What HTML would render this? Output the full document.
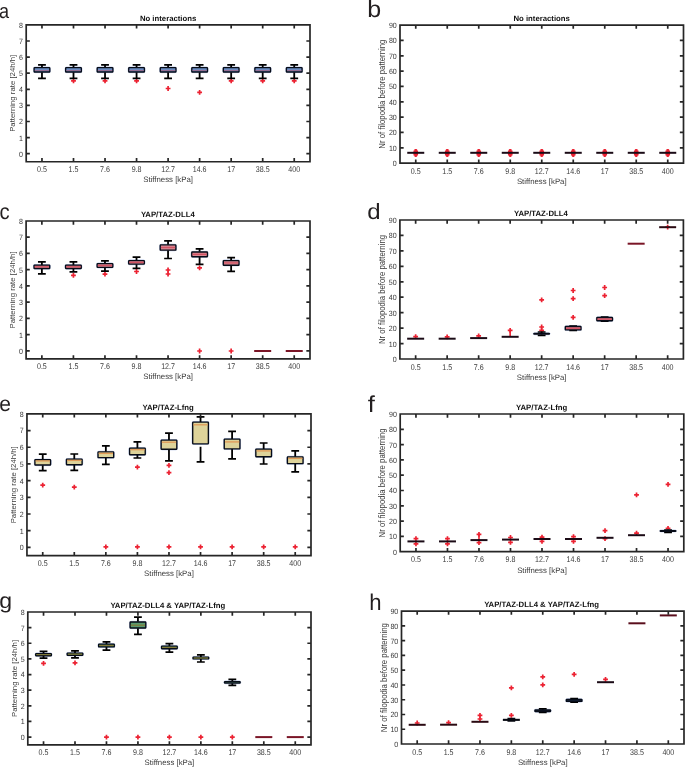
<!DOCTYPE html>
<html><head><meta charset="utf-8"><style>
html,body{margin:0;padding:0;background:#fff;}
body{width:685px;height:767px;overflow:hidden;position:relative;font-family:"Liberation Sans", sans-serif;}
svg{will-change:transform;}
svg text{font-family:"Liberation Sans", sans-serif;text-rendering:geometricPrecision;}
svg text.rot{text-rendering:auto;}
</style></head><body>
<svg width="685" height="767" viewBox="0 0 685 767" style="position:absolute;left:0;top:0"><g><text x="168.1" y="20.8" text-anchor="middle" font-weight="bold" font-size="7.75" fill="#111">No interactions</text><rect x="33.54" y="67.08" width="16.85" height="5.55" rx="1.5" fill="none" stroke="#b8c6e6" stroke-width="1"/><path d="M41.97 64.9V67.5M41.97 72.2V78.3" stroke="#000" stroke-width="1.8" fill="none"/><path d="M38.07 64.9H45.87M38.07 78.3H45.87" stroke="#000" stroke-width="1.7" fill="none"/><rect x="34.14" y="67.67" width="15.65" height="4.35" rx="0.5" fill="#6b90c6" stroke="#070c18" stroke-width="1.35"/><path d="M34.82 70.4H49.12" stroke="#9a6a8c" stroke-width="1.0"/><path d="M71.1 80.8H75.9M73.5 78.4V83.2" stroke="#ec2232" stroke-width="1.7" fill="none"/><rect x="65.08" y="67.08" width="16.85" height="5.55" rx="1.5" fill="none" stroke="#b8c6e6" stroke-width="1"/><path d="M73.5 64.9V67.5M73.5 72.2V78.3" stroke="#000" stroke-width="1.8" fill="none"/><path d="M69.6 64.9H77.4M69.6 78.3H77.4" stroke="#000" stroke-width="1.7" fill="none"/><rect x="65.67" y="67.67" width="15.65" height="4.35" rx="0.5" fill="#6b90c6" stroke="#070c18" stroke-width="1.35"/><path d="M66.35 70.4H80.65" stroke="#9a6a8c" stroke-width="1.0"/><path d="M102.63 80.8H107.43M105.03 78.4V83.2" stroke="#ec2232" stroke-width="1.7" fill="none"/><rect x="96.61" y="67.08" width="16.85" height="5.55" rx="1.5" fill="none" stroke="#b8c6e6" stroke-width="1"/><path d="M105.03 64.9V67.5M105.03 72.2V78.3" stroke="#000" stroke-width="1.8" fill="none"/><path d="M101.13 64.9H108.93M101.13 78.3H108.93" stroke="#000" stroke-width="1.7" fill="none"/><rect x="97.21" y="67.67" width="15.65" height="4.35" rx="0.5" fill="#6b90c6" stroke="#070c18" stroke-width="1.35"/><path d="M97.88 70.4H112.18" stroke="#9a6a8c" stroke-width="1.0"/><path d="M134.17 80.8H138.97M136.57 78.4V83.2" stroke="#ec2232" stroke-width="1.7" fill="none"/><rect x="128.14" y="67.08" width="16.85" height="5.55" rx="1.5" fill="none" stroke="#b8c6e6" stroke-width="1"/><path d="M136.57 64.9V67.5M136.57 72.2V78.3" stroke="#000" stroke-width="1.8" fill="none"/><path d="M132.67 64.9H140.47M132.67 78.3H140.47" stroke="#000" stroke-width="1.7" fill="none"/><rect x="128.74" y="67.67" width="15.65" height="4.35" rx="0.5" fill="#6b90c6" stroke="#070c18" stroke-width="1.35"/><path d="M129.42 70.4H143.72" stroke="#9a6a8c" stroke-width="1.0"/><path d="M165.7 88.5H170.5M168.1 86.1V90.9" stroke="#ec2232" stroke-width="1.7" fill="none"/><rect x="159.68" y="67.08" width="16.85" height="5.55" rx="1.5" fill="none" stroke="#b8c6e6" stroke-width="1"/><path d="M168.1 64.9V67.5M168.1 72.2V78.3" stroke="#000" stroke-width="1.8" fill="none"/><path d="M164.2 64.9H172M164.2 78.3H172" stroke="#000" stroke-width="1.7" fill="none"/><rect x="160.28" y="67.67" width="15.65" height="4.35" rx="0.5" fill="#6b90c6" stroke="#070c18" stroke-width="1.35"/><path d="M160.95 70.4H175.25" stroke="#9a6a8c" stroke-width="1.0"/><path d="M197.23 92.3H202.03M199.63 89.9V94.7" stroke="#ec2232" stroke-width="1.7" fill="none"/><rect x="191.21" y="67.08" width="16.85" height="5.55" rx="1.5" fill="none" stroke="#b8c6e6" stroke-width="1"/><path d="M199.63 64.9V67.5M199.63 72.2V78.3" stroke="#000" stroke-width="1.8" fill="none"/><path d="M195.73 64.9H203.53M195.73 78.3H203.53" stroke="#000" stroke-width="1.7" fill="none"/><rect x="191.81" y="67.67" width="15.65" height="4.35" rx="0.5" fill="#6b90c6" stroke="#070c18" stroke-width="1.35"/><path d="M192.48 70.4H206.78" stroke="#9a6a8c" stroke-width="1.0"/><path d="M228.77 80.9H233.57M231.17 78.5V83.3" stroke="#ec2232" stroke-width="1.7" fill="none"/><rect x="222.74" y="67.08" width="16.85" height="5.55" rx="1.5" fill="none" stroke="#b8c6e6" stroke-width="1"/><path d="M231.17 64.9V67.5M231.17 72.2V78.3" stroke="#000" stroke-width="1.8" fill="none"/><path d="M227.27 64.9H235.07M227.27 78.3H235.07" stroke="#000" stroke-width="1.7" fill="none"/><rect x="223.34" y="67.67" width="15.65" height="4.35" rx="0.5" fill="#6b90c6" stroke="#070c18" stroke-width="1.35"/><path d="M224.02 70.4H238.32" stroke="#9a6a8c" stroke-width="1.0"/><path d="M260.3 80.9H265.1M262.7 78.5V83.3" stroke="#ec2232" stroke-width="1.7" fill="none"/><rect x="254.28" y="67.08" width="16.85" height="5.55" rx="1.5" fill="none" stroke="#b8c6e6" stroke-width="1"/><path d="M262.7 64.9V67.5M262.7 72.2V78.3" stroke="#000" stroke-width="1.8" fill="none"/><path d="M258.8 64.9H266.6M258.8 78.3H266.6" stroke="#000" stroke-width="1.7" fill="none"/><rect x="254.88" y="67.67" width="15.65" height="4.35" rx="0.5" fill="#6b90c6" stroke="#070c18" stroke-width="1.35"/><path d="M255.55 70.4H269.85" stroke="#9a6a8c" stroke-width="1.0"/><path d="M291.83 80.9H296.63M294.23 78.5V83.3" stroke="#ec2232" stroke-width="1.7" fill="none"/><rect x="285.81" y="67.08" width="16.85" height="5.55" rx="1.5" fill="none" stroke="#b8c6e6" stroke-width="1"/><path d="M294.23 64.9V67.5M294.23 72.2V78.3" stroke="#000" stroke-width="1.8" fill="none"/><path d="M290.33 64.9H298.13M290.33 78.3H298.13" stroke="#000" stroke-width="1.7" fill="none"/><rect x="286.41" y="67.67" width="15.65" height="4.35" rx="0.5" fill="#6b90c6" stroke="#070c18" stroke-width="1.35"/><path d="M287.08 70.4H301.38" stroke="#9a6a8c" stroke-width="1.0"/><path d="M26.2 24.9H310V161.75H26.2ZM41.97 161.75v-2.8M41.97 24.9v2.8M73.5 161.75v-2.8M73.5 24.9v2.8M105.03 161.75v-2.8M105.03 24.9v2.8M136.57 161.75v-2.8M136.57 24.9v2.8M168.1 161.75v-2.8M168.1 24.9v2.8M199.63 161.75v-2.8M199.63 24.9v2.8M231.17 161.75v-2.8M231.17 24.9v2.8M262.7 161.75v-2.8M262.7 24.9v2.8M294.23 161.75v-2.8M294.23 24.9v2.8M26.2 153.7h2.8M310 153.7h-2.8M26.2 137.6h2.8M310 137.6h-2.8M26.2 121.5h2.8M310 121.5h-2.8M26.2 105.4h2.8M310 105.4h-2.8M26.2 89.3h2.8M310 89.3h-2.8M26.2 73.2h2.8M310 73.2h-2.8M26.2 57.1h2.8M310 57.1h-2.8M26.2 41h2.8M310 41h-2.8M26.2 24.9h2.8M310 24.9h-2.8" stroke="#262626" stroke-width="1.7" fill="none" stroke-linecap="square"/><text transform="translate(23 156.65) scale(1 1.08)" text-anchor="end" font-size="7.1" fill="#3a3a3a">0</text><text transform="translate(23 140.55) scale(1 1.08)" text-anchor="end" font-size="7.1" fill="#3a3a3a">1</text><text transform="translate(23 124.45) scale(1 1.08)" text-anchor="end" font-size="7.1" fill="#3a3a3a">2</text><text transform="translate(23 108.35) scale(1 1.08)" text-anchor="end" font-size="7.1" fill="#3a3a3a">3</text><text transform="translate(23 92.25) scale(1 1.08)" text-anchor="end" font-size="7.1" fill="#3a3a3a">4</text><text transform="translate(23 76.15) scale(1 1.08)" text-anchor="end" font-size="7.1" fill="#3a3a3a">5</text><text transform="translate(23 60.05) scale(1 1.08)" text-anchor="end" font-size="7.1" fill="#3a3a3a">6</text><text transform="translate(23 43.95) scale(1 1.08)" text-anchor="end" font-size="7.1" fill="#3a3a3a">7</text><text transform="translate(23 27.85) scale(1 1.08)" text-anchor="end" font-size="7.1" fill="#3a3a3a">8</text><text transform="translate(41.97 171.75) scale(1 1.17)" text-anchor="middle" font-size="7.1" fill="#3a3a3a">0.5</text><text transform="translate(73.5 171.75) scale(1 1.17)" text-anchor="middle" font-size="7.1" fill="#3a3a3a">1.5</text><text transform="translate(105.03 171.75) scale(1 1.17)" text-anchor="middle" font-size="7.1" fill="#3a3a3a">7.6</text><text transform="translate(136.57 171.75) scale(1 1.17)" text-anchor="middle" font-size="7.1" fill="#3a3a3a">9.8</text><text transform="translate(168.1 171.75) scale(1 1.17)" text-anchor="middle" font-size="7.1" fill="#3a3a3a">12.7</text><text transform="translate(199.63 171.75) scale(1 1.17)" text-anchor="middle" font-size="7.1" fill="#3a3a3a">14.6</text><text transform="translate(231.17 171.75) scale(1 1.17)" text-anchor="middle" font-size="7.1" fill="#3a3a3a">17</text><text transform="translate(262.7 171.75) scale(1 1.17)" text-anchor="middle" font-size="7.1" fill="#3a3a3a">38.5</text><text transform="translate(294.23 171.75) scale(1 1.17)" text-anchor="middle" font-size="7.1" fill="#3a3a3a">400</text><text x="168.1" y="181.95" text-anchor="middle" font-size="7.8" fill="#3a3a3a">Stiffness [kPa]</text><text class="rot" transform="translate(15.1 93.33) rotate(-90) scale(1 1.03)" text-anchor="middle" font-size="7.8" fill="#3a3a3a">Patterning rate [24h/h]</text><text transform="translate(-1.02 17.75) scale(0.878 1)" font-size="20.6" fill="#231f20">a</text></g><g><text x="541.65" y="21" text-anchor="middle" font-weight="bold" font-size="7.75" fill="#111">No interactions</text><path d="M415.75 148.9V156.9M413.45 151.3H418.05M413.35 152.9H418.15M413.45 154.5H418.05M414.35 150.2H417.15M414.35 155.6H417.15" stroke="#ec2232" stroke-width="1.8" fill="none"/><path d="M407.25 152.8H424.25" stroke="#1b0b16" stroke-width="2.0" fill="none"/><path d="M447.25 148.9V156.9M444.95 151.3H449.55M444.85 152.9H449.65M444.95 154.5H449.55M445.85 150.2H448.65M445.85 155.6H448.65" stroke="#ec2232" stroke-width="1.8" fill="none"/><path d="M438.75 152.8H455.75" stroke="#1b0b16" stroke-width="2.0" fill="none"/><path d="M478.75 148.9V156.9M476.45 151.3H481.05M476.35 152.9H481.15M476.45 154.5H481.05M477.35 150.2H480.15M477.35 155.6H480.15" stroke="#ec2232" stroke-width="1.8" fill="none"/><path d="M470.25 152.8H487.25" stroke="#1b0b16" stroke-width="2.0" fill="none"/><path d="M510.25 148.9V156.9M507.95 151.3H512.55M507.85 152.9H512.65M507.95 154.5H512.55M508.85 150.2H511.65M508.85 155.6H511.65" stroke="#ec2232" stroke-width="1.8" fill="none"/><path d="M501.75 152.8H518.75" stroke="#1b0b16" stroke-width="2.0" fill="none"/><path d="M541.75 148.9V156.9M539.45 151.3H544.05M539.35 152.9H544.15M539.45 154.5H544.05M540.35 150.2H543.15M540.35 155.6H543.15" stroke="#ec2232" stroke-width="1.8" fill="none"/><path d="M533.25 152.8H550.25" stroke="#1b0b16" stroke-width="2.0" fill="none"/><path d="M573.25 148.9V156.9M570.95 151.3H575.55M570.85 152.9H575.65M570.95 154.5H575.55M571.85 150.2H574.65M571.85 155.6H574.65" stroke="#ec2232" stroke-width="1.8" fill="none"/><path d="M564.75 152.8H581.75" stroke="#1b0b16" stroke-width="2.0" fill="none"/><path d="M604.75 148.9V156.9M602.45 151.3H607.05M602.35 152.9H607.15M602.45 154.5H607.05M603.35 150.2H606.15M603.35 155.6H606.15" stroke="#ec2232" stroke-width="1.8" fill="none"/><path d="M596.25 152.8H613.25" stroke="#1b0b16" stroke-width="2.0" fill="none"/><path d="M636.25 148.9V156.9M633.95 151.3H638.55M633.85 152.9H638.65M633.95 154.5H638.55M634.85 150.2H637.65M634.85 155.6H637.65" stroke="#ec2232" stroke-width="1.8" fill="none"/><path d="M627.75 152.8H644.75" stroke="#1b0b16" stroke-width="2.0" fill="none"/><path d="M667.75 148.9V156.9M665.45 151.3H670.05M665.35 152.9H670.15M665.45 154.5H670.05M666.35 150.2H669.15M666.35 155.6H669.15" stroke="#ec2232" stroke-width="1.8" fill="none"/><path d="M659.25 152.8H676.25" stroke="#1b0b16" stroke-width="2.0" fill="none"/><path d="M400 25.1H683.5V163.15H400ZM415.75 163.15v-2.8M415.75 25.1v2.8M447.25 163.15v-2.8M447.25 25.1v2.8M478.75 163.15v-2.8M478.75 25.1v2.8M510.25 163.15v-2.8M510.25 25.1v2.8M541.75 163.15v-2.8M541.75 25.1v2.8M573.25 163.15v-2.8M573.25 25.1v2.8M604.75 163.15v-2.8M604.75 25.1v2.8M636.25 163.15v-2.8M636.25 25.1v2.8M667.75 163.15v-2.8M667.75 25.1v2.8M400 163.15h2.8M683.5 163.15h-2.8M400 147.81h2.8M683.5 147.81h-2.8M400 132.47h2.8M683.5 132.47h-2.8M400 117.13h2.8M683.5 117.13h-2.8M400 101.79h2.8M683.5 101.79h-2.8M400 86.46h2.8M683.5 86.46h-2.8M400 71.12h2.8M683.5 71.12h-2.8M400 55.78h2.8M683.5 55.78h-2.8M400 40.44h2.8M683.5 40.44h-2.8M400 25.1h2.8M683.5 25.1h-2.8" stroke="#262626" stroke-width="1.7" fill="none" stroke-linecap="square"/><text transform="translate(396.8 166.1) scale(1 1.08)" text-anchor="end" font-size="7.1" fill="#3a3a3a">0</text><text transform="translate(396.8 150.76) scale(1 1.08)" text-anchor="end" font-size="7.1" fill="#3a3a3a">10</text><text transform="translate(396.8 135.42) scale(1 1.08)" text-anchor="end" font-size="7.1" fill="#3a3a3a">20</text><text transform="translate(396.8 120.08) scale(1 1.08)" text-anchor="end" font-size="7.1" fill="#3a3a3a">30</text><text transform="translate(396.8 104.74) scale(1 1.08)" text-anchor="end" font-size="7.1" fill="#3a3a3a">40</text><text transform="translate(396.8 89.41) scale(1 1.08)" text-anchor="end" font-size="7.1" fill="#3a3a3a">50</text><text transform="translate(396.8 74.07) scale(1 1.08)" text-anchor="end" font-size="7.1" fill="#3a3a3a">60</text><text transform="translate(396.8 58.73) scale(1 1.08)" text-anchor="end" font-size="7.1" fill="#3a3a3a">70</text><text transform="translate(396.8 43.39) scale(1 1.08)" text-anchor="end" font-size="7.1" fill="#3a3a3a">80</text><text transform="translate(396.8 28.05) scale(1 1.08)" text-anchor="end" font-size="7.1" fill="#3a3a3a">90</text><text transform="translate(415.75 173.65) scale(1 1.17)" text-anchor="middle" font-size="7.1" fill="#3a3a3a">0.5</text><text transform="translate(447.25 173.65) scale(1 1.17)" text-anchor="middle" font-size="7.1" fill="#3a3a3a">1.5</text><text transform="translate(478.75 173.65) scale(1 1.17)" text-anchor="middle" font-size="7.1" fill="#3a3a3a">7.6</text><text transform="translate(510.25 173.65) scale(1 1.17)" text-anchor="middle" font-size="7.1" fill="#3a3a3a">9.8</text><text transform="translate(541.75 173.65) scale(1 1.17)" text-anchor="middle" font-size="7.1" fill="#3a3a3a">12.7</text><text transform="translate(573.25 173.65) scale(1 1.17)" text-anchor="middle" font-size="7.1" fill="#3a3a3a">14.6</text><text transform="translate(604.75 173.65) scale(1 1.17)" text-anchor="middle" font-size="7.1" fill="#3a3a3a">17</text><text transform="translate(636.25 173.65) scale(1 1.17)" text-anchor="middle" font-size="7.1" fill="#3a3a3a">38.5</text><text transform="translate(667.75 173.65) scale(1 1.17)" text-anchor="middle" font-size="7.1" fill="#3a3a3a">400</text><text x="541.75" y="184.15" text-anchor="middle" font-size="7.8" fill="#3a3a3a">Stiffness [kPa]</text><text class="rot" transform="translate(385 94.12) rotate(-90) scale(1 1.15)" text-anchor="middle" font-size="7.8" fill="#3a3a3a">Nr of filopodia before patterning</text><text transform="translate(367.15 16.8) scale(1.068 1)" font-size="23.4" fill="#231f20">b</text></g><g><text x="167.8" y="216.9" text-anchor="middle" font-weight="bold" font-size="7.75" fill="#111">YAP/TAZ-DLL4</text><rect x="33.45" y="264.47" width="16.85" height="4.65" rx="1.5" fill="none" stroke="#b8c6e6" stroke-width="1"/><path d="M41.87 261.9V264.9M41.87 268.7V273.8" stroke="#000" stroke-width="1.8" fill="none"/><path d="M37.97 261.9H45.77M37.97 273.8H45.77" stroke="#000" stroke-width="1.7" fill="none"/><rect x="34.05" y="265.07" width="15.65" height="3.45" rx="0.5" fill="#d98893" stroke="#070c18" stroke-width="1.35"/><path d="M34.72 266.8H49.02" stroke="#d25464" stroke-width="1.3"/><path d="M71.02 275.3H75.82M73.42 272.9V277.7" stroke="#ec2232" stroke-width="1.7" fill="none"/><rect x="64.99" y="264.47" width="16.85" height="4.65" rx="1.5" fill="none" stroke="#b8c6e6" stroke-width="1"/><path d="M73.42 261.9V264.9M73.42 268.7V271.8" stroke="#000" stroke-width="1.8" fill="none"/><path d="M69.52 261.9H77.32M69.52 271.8H77.32" stroke="#000" stroke-width="1.7" fill="none"/><rect x="65.59" y="265.07" width="15.65" height="3.45" rx="0.5" fill="#d98893" stroke="#070c18" stroke-width="1.35"/><path d="M66.27 266.8H80.57" stroke="#d25464" stroke-width="1.3"/><path d="M102.56 274.1H107.36M104.96 271.7V276.5" stroke="#ec2232" stroke-width="1.7" fill="none"/><rect x="96.54" y="263.07" width="16.85" height="4.85" rx="1.5" fill="none" stroke="#b8c6e6" stroke-width="1"/><path d="M104.96 260.9V263.5M104.96 267.5V271.1" stroke="#000" stroke-width="1.8" fill="none"/><path d="M101.06 260.9H108.86M101.06 271.1H108.86" stroke="#000" stroke-width="1.7" fill="none"/><rect x="97.14" y="263.68" width="15.65" height="3.65" rx="0.5" fill="#d98893" stroke="#070c18" stroke-width="1.35"/><path d="M97.81 265.5H112.11" stroke="#d25464" stroke-width="1.3"/><path d="M134.11 271.5H138.91M136.51 269.1V273.9" stroke="#ec2232" stroke-width="1.7" fill="none"/><rect x="128.08" y="259.97" width="16.85" height="4.75" rx="1.5" fill="none" stroke="#b8c6e6" stroke-width="1"/><path d="M136.51 257.1V260.4M136.51 264.3V268.3" stroke="#000" stroke-width="1.8" fill="none"/><path d="M132.61 257.1H140.41M132.61 268.3H140.41" stroke="#000" stroke-width="1.7" fill="none"/><rect x="128.68" y="260.57" width="15.65" height="3.55" rx="0.5" fill="#d98893" stroke="#070c18" stroke-width="1.35"/><path d="M129.36 262.35H143.66" stroke="#d25464" stroke-width="1.3"/><path d="M165.65 270H170.45M168.05 267.6V272.4" stroke="#ec2232" stroke-width="1.7" fill="none"/><path d="M165.65 274H170.45M168.05 271.6V276.4" stroke="#ec2232" stroke-width="1.7" fill="none"/><rect x="159.62" y="244.28" width="16.85" height="6.45" rx="1.5" fill="none" stroke="#b8c6e6" stroke-width="1"/><path d="M168.05 240.9V244.7M168.05 250.3V258.5" stroke="#000" stroke-width="1.8" fill="none"/><path d="M164.15 240.9H171.95M164.15 258.5H171.95" stroke="#000" stroke-width="1.7" fill="none"/><rect x="160.22" y="244.88" width="15.65" height="5.25" rx="0.5" fill="#d98893" stroke="#070c18" stroke-width="1.35"/><path d="M160.9 247.5H175.2" stroke="#d25464" stroke-width="1.3"/><path d="M197.19 267.9H201.99M199.59 265.5V270.3" stroke="#ec2232" stroke-width="1.7" fill="none"/><path d="M197.19 351H201.99M199.59 348.6V353.4" stroke="#ec2232" stroke-width="1.7" fill="none"/><rect x="191.17" y="251.38" width="16.85" height="5.95" rx="1.5" fill="none" stroke="#b8c6e6" stroke-width="1"/><path d="M199.59 248.8V251.8M199.59 256.9V264.4" stroke="#000" stroke-width="1.8" fill="none"/><path d="M195.69 248.8H203.49M195.69 264.4H203.49" stroke="#000" stroke-width="1.7" fill="none"/><rect x="191.77" y="251.98" width="15.65" height="4.75" rx="0.5" fill="#d98893" stroke="#070c18" stroke-width="1.35"/><path d="M192.44 254.35H206.74" stroke="#d25464" stroke-width="1.3"/><path d="M228.74 351H233.54M231.14 348.6V353.4" stroke="#ec2232" stroke-width="1.7" fill="none"/><rect x="222.71" y="259.97" width="16.85" height="5.85" rx="1.5" fill="none" stroke="#b8c6e6" stroke-width="1"/><path d="M231.14 257.6V260.4M231.14 265.4V271.3" stroke="#000" stroke-width="1.8" fill="none"/><path d="M227.24 257.6H235.04M227.24 271.3H235.04" stroke="#000" stroke-width="1.7" fill="none"/><rect x="223.31" y="260.57" width="15.65" height="4.65" rx="0.5" fill="#d98893" stroke="#070c18" stroke-width="1.35"/><path d="M223.99 262.9H238.29" stroke="#d25464" stroke-width="1.3"/><path d="M254.18 351H271.18" stroke="#7a1526" stroke-width="2.0" fill="none"/><path d="M285.73 351H302.73" stroke="#7a1526" stroke-width="2.0" fill="none"/><path d="M26.1 221H310V358.9H26.1ZM41.87 358.9v-2.8M41.87 221v2.8M73.42 358.9v-2.8M73.42 221v2.8M104.96 358.9v-2.8M104.96 221v2.8M136.51 358.9v-2.8M136.51 221v2.8M168.05 358.9v-2.8M168.05 221v2.8M199.59 358.9v-2.8M199.59 221v2.8M231.14 358.9v-2.8M231.14 221v2.8M262.68 358.9v-2.8M262.68 221v2.8M294.23 358.9v-2.8M294.23 221v2.8M26.1 350.79h2.8M310 350.79h-2.8M26.1 334.56h2.8M310 334.56h-2.8M26.1 318.34h2.8M310 318.34h-2.8M26.1 302.12h2.8M310 302.12h-2.8M26.1 285.89h2.8M310 285.89h-2.8M26.1 269.67h2.8M310 269.67h-2.8M26.1 253.45h2.8M310 253.45h-2.8M26.1 237.22h2.8M310 237.22h-2.8M26.1 221h2.8M310 221h-2.8" stroke="#262626" stroke-width="1.7" fill="none" stroke-linecap="square"/><text transform="translate(22.9 353.74) scale(1 1.08)" text-anchor="end" font-size="7.1" fill="#3a3a3a">0</text><text transform="translate(22.9 337.51) scale(1 1.08)" text-anchor="end" font-size="7.1" fill="#3a3a3a">1</text><text transform="translate(22.9 321.29) scale(1 1.08)" text-anchor="end" font-size="7.1" fill="#3a3a3a">2</text><text transform="translate(22.9 305.07) scale(1 1.08)" text-anchor="end" font-size="7.1" fill="#3a3a3a">3</text><text transform="translate(22.9 288.84) scale(1 1.08)" text-anchor="end" font-size="7.1" fill="#3a3a3a">4</text><text transform="translate(22.9 272.62) scale(1 1.08)" text-anchor="end" font-size="7.1" fill="#3a3a3a">5</text><text transform="translate(22.9 256.4) scale(1 1.08)" text-anchor="end" font-size="7.1" fill="#3a3a3a">6</text><text transform="translate(22.9 240.17) scale(1 1.08)" text-anchor="end" font-size="7.1" fill="#3a3a3a">7</text><text transform="translate(22.9 223.95) scale(1 1.08)" text-anchor="end" font-size="7.1" fill="#3a3a3a">8</text><text transform="translate(41.87 368.9) scale(1 1.17)" text-anchor="middle" font-size="7.1" fill="#3a3a3a">0.5</text><text transform="translate(73.42 368.9) scale(1 1.17)" text-anchor="middle" font-size="7.1" fill="#3a3a3a">1.5</text><text transform="translate(104.96 368.9) scale(1 1.17)" text-anchor="middle" font-size="7.1" fill="#3a3a3a">7.6</text><text transform="translate(136.51 368.9) scale(1 1.17)" text-anchor="middle" font-size="7.1" fill="#3a3a3a">9.8</text><text transform="translate(168.05 368.9) scale(1 1.17)" text-anchor="middle" font-size="7.1" fill="#3a3a3a">12.7</text><text transform="translate(199.59 368.9) scale(1 1.17)" text-anchor="middle" font-size="7.1" fill="#3a3a3a">14.6</text><text transform="translate(231.14 368.9) scale(1 1.17)" text-anchor="middle" font-size="7.1" fill="#3a3a3a">17</text><text transform="translate(262.68 368.9) scale(1 1.17)" text-anchor="middle" font-size="7.1" fill="#3a3a3a">38.5</text><text transform="translate(294.23 368.9) scale(1 1.17)" text-anchor="middle" font-size="7.1" fill="#3a3a3a">400</text><text x="168.05" y="379.1" text-anchor="middle" font-size="7.8" fill="#3a3a3a">Stiffness [kPa]</text><text class="rot" transform="translate(15 289.95) rotate(-90) scale(1 1.03)" text-anchor="middle" font-size="7.8" fill="#3a3a3a">Patterning rate [24h/h]</text><text transform="translate(-0.61 219) scale(0.920 1)" font-size="22.0" fill="#231f20">c</text></g><g><text x="540.9" y="215.9" text-anchor="middle" font-weight="bold" font-size="7.75" fill="#111">YAP/TAZ-DLL4</text><path d="M413.25 336.6H418.05M415.65 334.2V339" stroke="#ec2232" stroke-width="1.7" fill="none"/><path d="M407.15 338.7H424.15" stroke="#1b0b16" stroke-width="2.0" fill="none"/><path d="M444.75 336.9H449.55M447.15 334.5V339.3" stroke="#ec2232" stroke-width="1.7" fill="none"/><path d="M438.65 338.7H455.65" stroke="#1b0b16" stroke-width="2.0" fill="none"/><path d="M476.25 335.8H481.05M478.65 333.4V338.2" stroke="#ec2232" stroke-width="1.7" fill="none"/><path d="M470.15 338.1H487.15" stroke="#1b0b16" stroke-width="2.0" fill="none"/><path d="M507.75 330.4H512.55M510.15 328V332.8" stroke="#ec2232" stroke-width="1.7" fill="none"/><path d="M510.15 330.4V336.8" stroke="#ec2232" stroke-width="1.6" fill="none"/><path d="M501.65 336.8H518.65" stroke="#1b0b16" stroke-width="2.0" fill="none"/><path d="M539.25 299.8H544.05M541.65 297.4V302.2" stroke="#ec2232" stroke-width="1.7" fill="none"/><path d="M539.25 327H544.05M541.65 324.6V329.4" stroke="#ec2232" stroke-width="1.7" fill="none"/><path d="M539.25 330.4H544.05M541.65 328V332.8" stroke="#ec2232" stroke-width="1.7" fill="none"/><rect x="533.22" y="332.88" width="16.85" height="1.85" rx="1.5" fill="none" stroke="#b8c6e6" stroke-width="1"/><path d="M541.65 332V333.3M541.65 334.3V335.3" stroke="#000" stroke-width="1.8" fill="none"/><path d="M537.75 332H545.55M537.75 335.3H545.55" stroke="#000" stroke-width="1.7" fill="none"/><rect x="533.82" y="333.48" width="15.65" height="0.65" rx="0.5" fill="#d8808e" stroke="#070c18" stroke-width="1.35"/><path d="M570.75 290.5H575.55M573.15 288.1V292.9" stroke="#ec2232" stroke-width="1.7" fill="none"/><path d="M570.75 298.6H575.55M573.15 296.2V301" stroke="#ec2232" stroke-width="1.7" fill="none"/><path d="M570.75 317.4H575.55M573.15 315V319.8" stroke="#ec2232" stroke-width="1.7" fill="none"/><rect x="564.72" y="325.88" width="16.85" height="4.65" rx="1.5" fill="none" stroke="#b8c6e6" stroke-width="1"/><path d="M573.15 326.2V326.3M573.15 330.1V330.3" stroke="#000" stroke-width="1.8" fill="none"/><path d="M569.25 326.2H577.05M569.25 330.3H577.05" stroke="#000" stroke-width="1.7" fill="none"/><rect x="565.32" y="326.48" width="15.65" height="3.45" rx="0.5" fill="#d8808e" stroke="#070c18" stroke-width="1.35"/><path d="M566 328.2H580.3" stroke="#d24f60" stroke-width="1.3"/><path d="M602.25 287.5H607.05M604.65 285.1V289.9" stroke="#ec2232" stroke-width="1.7" fill="none"/><path d="M602.25 295.6H607.05M604.65 293.2V298" stroke="#ec2232" stroke-width="1.7" fill="none"/><rect x="596.22" y="316.88" width="16.85" height="4.45" rx="1.5" fill="none" stroke="#b8c6e6" stroke-width="1"/><path d="M604.65 317V317.3M604.65 320.9V321.2" stroke="#000" stroke-width="1.8" fill="none"/><path d="M600.75 317H608.55M600.75 321.2H608.55" stroke="#000" stroke-width="1.7" fill="none"/><rect x="596.82" y="317.48" width="15.65" height="3.25" rx="0.5" fill="#d8808e" stroke="#070c18" stroke-width="1.35"/><path d="M597.5 319.1H611.8" stroke="#d24f60" stroke-width="1.3"/><path d="M627.65 243.7H644.65" stroke="#7a1526" stroke-width="2.0" fill="none"/><path d="M665.25 227.2H670.05M667.65 224.8V229.6" stroke="#ec2232" stroke-width="1.7" fill="none"/><path d="M659.15 227.2H676.15" stroke="#2a0a12" stroke-width="2.0" fill="none"/><path d="M399.9 220H683.4V359H399.9ZM415.65 359v-2.8M415.65 220v2.8M447.15 359v-2.8M447.15 220v2.8M478.65 359v-2.8M478.65 220v2.8M510.15 359v-2.8M510.15 220v2.8M541.65 359v-2.8M541.65 220v2.8M573.15 359v-2.8M573.15 220v2.8M604.65 359v-2.8M604.65 220v2.8M636.15 359v-2.8M636.15 220v2.8M667.65 359v-2.8M667.65 220v2.8M399.9 359h2.8M683.4 359h-2.8M399.9 343.56h2.8M683.4 343.56h-2.8M399.9 328.11h2.8M683.4 328.11h-2.8M399.9 312.67h2.8M683.4 312.67h-2.8M399.9 297.22h2.8M683.4 297.22h-2.8M399.9 281.78h2.8M683.4 281.78h-2.8M399.9 266.33h2.8M683.4 266.33h-2.8M399.9 250.89h2.8M683.4 250.89h-2.8M399.9 235.44h2.8M683.4 235.44h-2.8M399.9 220h2.8M683.4 220h-2.8" stroke="#262626" stroke-width="1.7" fill="none" stroke-linecap="square"/><text transform="translate(396.7 361.95) scale(1 1.08)" text-anchor="end" font-size="7.1" fill="#3a3a3a">0</text><text transform="translate(396.7 346.51) scale(1 1.08)" text-anchor="end" font-size="7.1" fill="#3a3a3a">10</text><text transform="translate(396.7 331.06) scale(1 1.08)" text-anchor="end" font-size="7.1" fill="#3a3a3a">20</text><text transform="translate(396.7 315.62) scale(1 1.08)" text-anchor="end" font-size="7.1" fill="#3a3a3a">30</text><text transform="translate(396.7 300.17) scale(1 1.08)" text-anchor="end" font-size="7.1" fill="#3a3a3a">40</text><text transform="translate(396.7 284.73) scale(1 1.08)" text-anchor="end" font-size="7.1" fill="#3a3a3a">50</text><text transform="translate(396.7 269.28) scale(1 1.08)" text-anchor="end" font-size="7.1" fill="#3a3a3a">60</text><text transform="translate(396.7 253.84) scale(1 1.08)" text-anchor="end" font-size="7.1" fill="#3a3a3a">70</text><text transform="translate(396.7 238.39) scale(1 1.08)" text-anchor="end" font-size="7.1" fill="#3a3a3a">80</text><text transform="translate(396.7 222.95) scale(1 1.08)" text-anchor="end" font-size="7.1" fill="#3a3a3a">90</text><text transform="translate(415.65 369.5) scale(1 1.17)" text-anchor="middle" font-size="7.1" fill="#3a3a3a">0.5</text><text transform="translate(447.15 369.5) scale(1 1.17)" text-anchor="middle" font-size="7.1" fill="#3a3a3a">1.5</text><text transform="translate(478.65 369.5) scale(1 1.17)" text-anchor="middle" font-size="7.1" fill="#3a3a3a">7.6</text><text transform="translate(510.15 369.5) scale(1 1.17)" text-anchor="middle" font-size="7.1" fill="#3a3a3a">9.8</text><text transform="translate(541.65 369.5) scale(1 1.17)" text-anchor="middle" font-size="7.1" fill="#3a3a3a">12.7</text><text transform="translate(573.15 369.5) scale(1 1.17)" text-anchor="middle" font-size="7.1" fill="#3a3a3a">14.6</text><text transform="translate(604.65 369.5) scale(1 1.17)" text-anchor="middle" font-size="7.1" fill="#3a3a3a">17</text><text transform="translate(636.15 369.5) scale(1 1.17)" text-anchor="middle" font-size="7.1" fill="#3a3a3a">38.5</text><text transform="translate(667.65 369.5) scale(1 1.17)" text-anchor="middle" font-size="7.1" fill="#3a3a3a">400</text><text x="541.65" y="380" text-anchor="middle" font-size="7.8" fill="#3a3a3a">Stiffness [kPa]</text><text class="rot" transform="translate(384.9 289.5) rotate(-90) scale(1 1.15)" text-anchor="middle" font-size="7.8" fill="#3a3a3a">Nr of filopodia before patterning</text><text transform="translate(367.24 218.6) scale(1.091 1)" font-size="22.0" fill="#231f20">d</text></g><g><text x="168.17" y="409.75" text-anchor="middle" font-weight="bold" font-size="7.75" fill="#111">YAP/TAZ-Lfng</text><path d="M40.33 485.1H45.13M42.73 482.7V487.5" stroke="#ec2232" stroke-width="1.7" fill="none"/><rect x="34.31" y="459.18" width="16.85" height="6.45" rx="1.5" fill="none" stroke="#b8c6e6" stroke-width="1"/><path d="M42.73 454.2V459.6M42.73 465.2V470.6" stroke="#000" stroke-width="1.8" fill="none"/><path d="M38.83 454.2H46.63M38.83 470.6H46.63" stroke="#000" stroke-width="1.7" fill="none"/><rect x="34.91" y="459.78" width="15.65" height="5.25" rx="0.5" fill="#ddd39a" stroke="#070c18" stroke-width="1.35"/><path d="M35.58 460.9H49.88" stroke="#e09a58" stroke-width="1.3"/><path d="M71.89 487.2H76.69M74.29 484.8V489.6" stroke="#ec2232" stroke-width="1.7" fill="none"/><rect x="65.87" y="458.47" width="16.85" height="6.85" rx="1.5" fill="none" stroke="#b8c6e6" stroke-width="1"/><path d="M74.29 454V458.9M74.29 464.9V470.3" stroke="#000" stroke-width="1.8" fill="none"/><path d="M70.39 454H78.19M70.39 470.3H78.19" stroke="#000" stroke-width="1.7" fill="none"/><rect x="66.47" y="459.07" width="15.65" height="5.65" rx="0.5" fill="#ddd39a" stroke="#070c18" stroke-width="1.35"/><path d="M67.14 460.4H81.44" stroke="#e09a58" stroke-width="1.3"/><path d="M103.45 546.9H108.25M105.85 544.5V549.3" stroke="#ec2232" stroke-width="1.7" fill="none"/><rect x="97.43" y="451.27" width="16.85" height="6.95" rx="1.5" fill="none" stroke="#b8c6e6" stroke-width="1"/><path d="M105.85 445.9V451.7M105.85 457.8V464.3" stroke="#000" stroke-width="1.8" fill="none"/><path d="M101.95 445.9H109.75M101.95 464.3H109.75" stroke="#000" stroke-width="1.7" fill="none"/><rect x="98.03" y="451.88" width="15.65" height="5.75" rx="0.5" fill="#ddd39a" stroke="#070c18" stroke-width="1.35"/><path d="M98.7 453.4H113" stroke="#e09a58" stroke-width="1.3"/><path d="M135.01 467.1H139.81M137.41 464.7V469.5" stroke="#ec2232" stroke-width="1.7" fill="none"/><path d="M135.01 546.9H139.81M137.41 544.5V549.3" stroke="#ec2232" stroke-width="1.7" fill="none"/><rect x="128.99" y="447.47" width="16.85" height="7.85" rx="1.5" fill="none" stroke="#b8c6e6" stroke-width="1"/><path d="M137.41 441.8V447.9M137.41 454.9V458" stroke="#000" stroke-width="1.8" fill="none"/><path d="M133.51 441.8H141.31M133.51 458H141.31" stroke="#000" stroke-width="1.7" fill="none"/><rect x="129.59" y="448.07" width="15.65" height="6.65" rx="0.5" fill="#ddd39a" stroke="#070c18" stroke-width="1.35"/><path d="M130.26 449.7H144.56" stroke="#e09a58" stroke-width="1.3"/><path d="M166.57 465.3H171.38M168.97 462.9V467.7" stroke="#ec2232" stroke-width="1.7" fill="none"/><path d="M166.57 472.6H171.38M168.97 470.2V475" stroke="#ec2232" stroke-width="1.7" fill="none"/><path d="M166.57 546.9H171.38M168.97 544.5V549.3" stroke="#ec2232" stroke-width="1.7" fill="none"/><rect x="160.55" y="439.57" width="16.85" height="10.25" rx="1.5" fill="none" stroke="#b8c6e6" stroke-width="1"/><path d="M168.97 433.1V440M168.97 449.4V460.9" stroke="#000" stroke-width="1.8" fill="none"/><path d="M165.07 433.1H172.88M165.07 460.9H172.88" stroke="#000" stroke-width="1.7" fill="none"/><rect x="161.15" y="440.18" width="15.65" height="9.05" rx="0.5" fill="#ddd39a" stroke="#070c18" stroke-width="1.35"/><path d="M161.83 442.2H176.12" stroke="#e09a58" stroke-width="1.3"/><path d="M198.14 546.9H202.94M200.54 544.5V549.3" stroke="#ec2232" stroke-width="1.7" fill="none"/><rect x="192.11" y="421.47" width="16.85" height="22.95" rx="1.5" fill="none" stroke="#b8c6e6" stroke-width="1"/><path d="M200.54 416.8V421.9M200.54 446.8V461.8" stroke="#000" stroke-width="1.8" fill="none"/><path d="M196.64 416.8H204.44M196.64 461.8H204.44" stroke="#000" stroke-width="1.7" fill="none"/><rect x="192.71" y="422.07" width="15.65" height="21.75" rx="0.5" fill="#ddd39a" stroke="#070c18" stroke-width="1.35"/><path d="M193.39 424.8H207.69" stroke="#e09a58" stroke-width="1.3"/><path d="M229.7 546.9H234.5M232.1 544.5V549.3" stroke="#ec2232" stroke-width="1.7" fill="none"/><rect x="223.67" y="438.47" width="16.85" height="11.05" rx="1.5" fill="none" stroke="#b8c6e6" stroke-width="1"/><path d="M232.1 431.3V438.9M232.1 449.1V458.8" stroke="#000" stroke-width="1.8" fill="none"/><path d="M228.2 431.3H236M228.2 458.8H236" stroke="#000" stroke-width="1.7" fill="none"/><rect x="224.27" y="439.07" width="15.65" height="9.85" rx="0.5" fill="#ddd39a" stroke="#070c18" stroke-width="1.35"/><path d="M224.95 441.9H239.25" stroke="#e09a58" stroke-width="1.3"/><path d="M261.26 546.9H266.06M263.66 544.5V549.3" stroke="#ec2232" stroke-width="1.7" fill="none"/><rect x="255.23" y="448.47" width="16.85" height="8.85" rx="1.5" fill="none" stroke="#b8c6e6" stroke-width="1"/><path d="M263.66 443V448.9M263.66 456.9V464" stroke="#000" stroke-width="1.8" fill="none"/><path d="M259.76 443H267.56M259.76 464H267.56" stroke="#000" stroke-width="1.7" fill="none"/><rect x="255.83" y="449.07" width="15.65" height="7.65" rx="0.5" fill="#ddd39a" stroke="#070c18" stroke-width="1.35"/><path d="M256.51 450.9H270.81" stroke="#e09a58" stroke-width="1.3"/><path d="M292.82 546.9H297.62M295.22 544.5V549.3" stroke="#ec2232" stroke-width="1.7" fill="none"/><rect x="286.79" y="456.27" width="16.85" height="7.95" rx="1.5" fill="none" stroke="#b8c6e6" stroke-width="1"/><path d="M295.22 450.9V456.7M295.22 463.8V471.8" stroke="#000" stroke-width="1.8" fill="none"/><path d="M291.32 450.9H299.12M291.32 471.8H299.12" stroke="#000" stroke-width="1.7" fill="none"/><rect x="287.39" y="456.88" width="15.65" height="6.75" rx="0.5" fill="#ddd39a" stroke="#070c18" stroke-width="1.35"/><path d="M288.07 458.4H302.37" stroke="#e09a58" stroke-width="1.3"/><path d="M26.95 413.85H311V555.7H26.95ZM42.73 555.7v-2.8M42.73 413.85v2.8M74.29 555.7v-2.8M74.29 413.85v2.8M105.85 555.7v-2.8M105.85 413.85v2.8M137.41 555.7v-2.8M137.41 413.85v2.8M168.97 555.7v-2.8M168.97 413.85v2.8M200.54 555.7v-2.8M200.54 413.85v2.8M232.1 555.7v-2.8M232.1 413.85v2.8M263.66 555.7v-2.8M263.66 413.85v2.8M295.22 555.7v-2.8M295.22 413.85v2.8M26.95 547.36h2.8M311 547.36h-2.8M26.95 530.67h2.8M311 530.67h-2.8M26.95 513.98h2.8M311 513.98h-2.8M26.95 497.29h2.8M311 497.29h-2.8M26.95 480.6h2.8M311 480.6h-2.8M26.95 463.91h2.8M311 463.91h-2.8M26.95 447.23h2.8M311 447.23h-2.8M26.95 430.54h2.8M311 430.54h-2.8M26.95 413.85h2.8M311 413.85h-2.8" stroke="#262626" stroke-width="1.7" fill="none" stroke-linecap="square"/><text transform="translate(23.75 550.31) scale(1 1.08)" text-anchor="end" font-size="7.1" fill="#3a3a3a">0</text><text transform="translate(23.75 533.62) scale(1 1.08)" text-anchor="end" font-size="7.1" fill="#3a3a3a">1</text><text transform="translate(23.75 516.93) scale(1 1.08)" text-anchor="end" font-size="7.1" fill="#3a3a3a">2</text><text transform="translate(23.75 500.24) scale(1 1.08)" text-anchor="end" font-size="7.1" fill="#3a3a3a">3</text><text transform="translate(23.75 483.55) scale(1 1.08)" text-anchor="end" font-size="7.1" fill="#3a3a3a">4</text><text transform="translate(23.75 466.86) scale(1 1.08)" text-anchor="end" font-size="7.1" fill="#3a3a3a">5</text><text transform="translate(23.75 450.18) scale(1 1.08)" text-anchor="end" font-size="7.1" fill="#3a3a3a">6</text><text transform="translate(23.75 433.49) scale(1 1.08)" text-anchor="end" font-size="7.1" fill="#3a3a3a">7</text><text transform="translate(23.75 416.8) scale(1 1.08)" text-anchor="end" font-size="7.1" fill="#3a3a3a">8</text><text transform="translate(42.73 565.7) scale(1 1.17)" text-anchor="middle" font-size="7.1" fill="#3a3a3a">0.5</text><text transform="translate(74.29 565.7) scale(1 1.17)" text-anchor="middle" font-size="7.1" fill="#3a3a3a">1.5</text><text transform="translate(105.85 565.7) scale(1 1.17)" text-anchor="middle" font-size="7.1" fill="#3a3a3a">7.6</text><text transform="translate(137.41 565.7) scale(1 1.17)" text-anchor="middle" font-size="7.1" fill="#3a3a3a">9.8</text><text transform="translate(168.97 565.7) scale(1 1.17)" text-anchor="middle" font-size="7.1" fill="#3a3a3a">12.7</text><text transform="translate(200.54 565.7) scale(1 1.17)" text-anchor="middle" font-size="7.1" fill="#3a3a3a">14.6</text><text transform="translate(232.1 565.7) scale(1 1.17)" text-anchor="middle" font-size="7.1" fill="#3a3a3a">17</text><text transform="translate(263.66 565.7) scale(1 1.17)" text-anchor="middle" font-size="7.1" fill="#3a3a3a">38.5</text><text transform="translate(295.22 565.7) scale(1 1.17)" text-anchor="middle" font-size="7.1" fill="#3a3a3a">400</text><text x="168.97" y="575.9" text-anchor="middle" font-size="7.8" fill="#3a3a3a">Stiffness [kPa]</text><text class="rot" transform="translate(15.85 484.78) rotate(-90) scale(1 1.03)" text-anchor="middle" font-size="7.8" fill="#3a3a3a">Patterning rate [24h/h]</text><text transform="translate(-0.64 410.5) scale(0.980 1)" font-size="21.5" fill="#231f20">e</text></g><g><text x="541.65" y="409.9" text-anchor="middle" font-weight="bold" font-size="7.75" fill="#111">YAP/TAZ-Lfng</text><path d="M413.56 538.7H418.36M415.96 536.3V541.1" stroke="#ec2232" stroke-width="1.7" fill="none"/><path d="M413.56 543.9H418.36M415.96 541.5V546.3" stroke="#ec2232" stroke-width="1.7" fill="none"/><path d="M407.46 541.4H424.46" stroke="#1b0b16" stroke-width="2.0" fill="none"/><path d="M445.07 538.7H449.87M447.47 536.3V541.1" stroke="#ec2232" stroke-width="1.7" fill="none"/><path d="M445.07 543.9H449.87M447.47 541.5V546.3" stroke="#ec2232" stroke-width="1.7" fill="none"/><path d="M438.97 541.4H455.97" stroke="#1b0b16" stroke-width="2.0" fill="none"/><path d="M476.58 534.4H481.38M478.98 532V536.8" stroke="#ec2232" stroke-width="1.7" fill="none"/><path d="M478.98 534.4V540" stroke="#ec2232" stroke-width="1.6" fill="none"/><path d="M476.58 542.6H481.38M478.98 540.2V545" stroke="#ec2232" stroke-width="1.7" fill="none"/><path d="M470.48 540.1H487.48" stroke="#1b0b16" stroke-width="2.0" fill="none"/><path d="M508.09 537.5H512.89M510.49 535.1V539.9" stroke="#ec2232" stroke-width="1.7" fill="none"/><path d="M508.09 542.4H512.89M510.49 540V544.8" stroke="#ec2232" stroke-width="1.7" fill="none"/><path d="M501.99 539.6H518.99" stroke="#1b0b16" stroke-width="2.0" fill="none"/><path d="M539.6 537.2H544.4M542 534.8V539.6" stroke="#ec2232" stroke-width="1.7" fill="none"/><path d="M539.6 541.4H544.4M542 539V543.8" stroke="#ec2232" stroke-width="1.7" fill="none"/><path d="M533.5 539H550.5" stroke="#1b0b16" stroke-width="2.0" fill="none"/><path d="M571.11 536.6H575.91M573.51 534.2V539" stroke="#ec2232" stroke-width="1.7" fill="none"/><path d="M571.11 541.4H575.91M573.51 539V543.8" stroke="#ec2232" stroke-width="1.7" fill="none"/><path d="M565.01 539H582.01" stroke="#1b0b16" stroke-width="2.0" fill="none"/><path d="M602.62 530.6H607.42M605.02 528.2V533" stroke="#ec2232" stroke-width="1.7" fill="none"/><path d="M602.62 538.6H607.42M605.02 536.2V541" stroke="#ec2232" stroke-width="1.7" fill="none"/><path d="M596.52 537.8H613.52" stroke="#1b0b16" stroke-width="2.0" fill="none"/><path d="M634.13 533.1H638.93M636.53 530.7V535.5" stroke="#ec2232" stroke-width="1.7" fill="none"/><path d="M634.13 494.9H638.93M636.53 492.5V497.3" stroke="#ec2232" stroke-width="1.7" fill="none"/><path d="M628.03 535.2H645.03" stroke="#1b0b16" stroke-width="2.0" fill="none"/><path d="M665.64 528.3H670.44M668.04 525.9V530.7" stroke="#ec2232" stroke-width="1.7" fill="none"/><path d="M665.64 484.3H670.44M668.04 481.9V486.7" stroke="#ec2232" stroke-width="1.7" fill="none"/><rect x="659.62" y="530.07" width="16.85" height="1.75" rx="1.5" fill="none" stroke="#b8c6e6" stroke-width="1"/><path d="M668.04 530V530.5M668.04 531.4V532.4" stroke="#000" stroke-width="1.8" fill="none"/><path d="M664.14 530H671.94M664.14 532.4H671.94" stroke="#000" stroke-width="1.7" fill="none"/><rect x="660.22" y="530.67" width="15.65" height="0.55" rx="0.5" fill="#ddd39a" stroke="#070c18" stroke-width="1.35"/><path d="M400.2 414H683.8V551.7H400.2ZM415.96 551.7v-2.8M415.96 414v2.8M447.47 551.7v-2.8M447.47 414v2.8M478.98 551.7v-2.8M478.98 414v2.8M510.49 551.7v-2.8M510.49 414v2.8M542 551.7v-2.8M542 414v2.8M573.51 551.7v-2.8M573.51 414v2.8M605.02 551.7v-2.8M605.02 414v2.8M636.53 551.7v-2.8M636.53 414v2.8M668.04 551.7v-2.8M668.04 414v2.8M400.2 551.7h2.8M683.8 551.7h-2.8M400.2 536.4h2.8M683.8 536.4h-2.8M400.2 521.1h2.8M683.8 521.1h-2.8M400.2 505.8h2.8M683.8 505.8h-2.8M400.2 490.5h2.8M683.8 490.5h-2.8M400.2 475.2h2.8M683.8 475.2h-2.8M400.2 459.9h2.8M683.8 459.9h-2.8M400.2 444.6h2.8M683.8 444.6h-2.8M400.2 429.3h2.8M683.8 429.3h-2.8M400.2 414h2.8M683.8 414h-2.8" stroke="#262626" stroke-width="1.7" fill="none" stroke-linecap="square"/><text transform="translate(397 554.65) scale(1 1.08)" text-anchor="end" font-size="7.1" fill="#3a3a3a">0</text><text transform="translate(397 539.35) scale(1 1.08)" text-anchor="end" font-size="7.1" fill="#3a3a3a">10</text><text transform="translate(397 524.05) scale(1 1.08)" text-anchor="end" font-size="7.1" fill="#3a3a3a">20</text><text transform="translate(397 508.75) scale(1 1.08)" text-anchor="end" font-size="7.1" fill="#3a3a3a">30</text><text transform="translate(397 493.45) scale(1 1.08)" text-anchor="end" font-size="7.1" fill="#3a3a3a">40</text><text transform="translate(397 478.15) scale(1 1.08)" text-anchor="end" font-size="7.1" fill="#3a3a3a">50</text><text transform="translate(397 462.85) scale(1 1.08)" text-anchor="end" font-size="7.1" fill="#3a3a3a">60</text><text transform="translate(397 447.55) scale(1 1.08)" text-anchor="end" font-size="7.1" fill="#3a3a3a">70</text><text transform="translate(397 432.25) scale(1 1.08)" text-anchor="end" font-size="7.1" fill="#3a3a3a">80</text><text transform="translate(397 416.95) scale(1 1.08)" text-anchor="end" font-size="7.1" fill="#3a3a3a">90</text><text transform="translate(415.96 562.2) scale(1 1.17)" text-anchor="middle" font-size="7.1" fill="#3a3a3a">0.5</text><text transform="translate(447.47 562.2) scale(1 1.17)" text-anchor="middle" font-size="7.1" fill="#3a3a3a">1.5</text><text transform="translate(478.98 562.2) scale(1 1.17)" text-anchor="middle" font-size="7.1" fill="#3a3a3a">7.6</text><text transform="translate(510.49 562.2) scale(1 1.17)" text-anchor="middle" font-size="7.1" fill="#3a3a3a">9.8</text><text transform="translate(542 562.2) scale(1 1.17)" text-anchor="middle" font-size="7.1" fill="#3a3a3a">12.7</text><text transform="translate(573.51 562.2) scale(1 1.17)" text-anchor="middle" font-size="7.1" fill="#3a3a3a">14.6</text><text transform="translate(605.02 562.2) scale(1 1.17)" text-anchor="middle" font-size="7.1" fill="#3a3a3a">17</text><text transform="translate(636.53 562.2) scale(1 1.17)" text-anchor="middle" font-size="7.1" fill="#3a3a3a">38.5</text><text transform="translate(668.04 562.2) scale(1 1.17)" text-anchor="middle" font-size="7.1" fill="#3a3a3a">400</text><text x="542" y="572.7" text-anchor="middle" font-size="7.8" fill="#3a3a3a">Stiffness [kPa]</text><text class="rot" transform="translate(385.2 482.85) rotate(-90) scale(1 1.15)" text-anchor="middle" font-size="7.8" fill="#3a3a3a">Nr of filopodia before patterning</text><text transform="translate(367.74 411.7) scale(1.111 1)" font-size="23.0" fill="#231f20">f</text></g><g><text x="167.8" y="607.9" text-anchor="middle" font-weight="bold" font-size="7.75" fill="#111">YAP/TAZ-DLL4 &amp; YAP/TAZ-Lfng</text><path d="M41.13 663.3H45.93M43.53 660.9V665.7" stroke="#ec2232" stroke-width="1.7" fill="none"/><rect x="35.11" y="652.97" width="16.85" height="3.35" rx="1.5" fill="none" stroke="#b8c6e6" stroke-width="1"/><path d="M43.53 651.4V653.4M43.53 655.9V658.2" stroke="#000" stroke-width="1.8" fill="none"/><path d="M39.63 651.4H47.43M39.63 658.2H47.43" stroke="#000" stroke-width="1.7" fill="none"/><rect x="35.71" y="653.57" width="15.65" height="2.15" rx="0.5" fill="#5a9a70" stroke="#070c18" stroke-width="1.35"/><path d="M36.38 654.65H50.68" stroke="#867a36" stroke-width="1.1"/><path d="M72.6 662.8H77.4M75 660.4V665.2" stroke="#ec2232" stroke-width="1.7" fill="none"/><rect x="66.58" y="652.47" width="16.85" height="3.35" rx="1.5" fill="none" stroke="#b8c6e6" stroke-width="1"/><path d="M75 650.9V652.9M75 655.4V657.9" stroke="#000" stroke-width="1.8" fill="none"/><path d="M71.1 650.9H78.9M71.1 657.9H78.9" stroke="#000" stroke-width="1.7" fill="none"/><rect x="67.17" y="653.07" width="15.65" height="2.15" rx="0.5" fill="#5a9a70" stroke="#070c18" stroke-width="1.35"/><path d="M67.85 654.15H82.15" stroke="#867a36" stroke-width="1.1"/><path d="M104.07 737.1H108.87M106.47 734.7V739.5" stroke="#ec2232" stroke-width="1.7" fill="none"/><rect x="98.04" y="643.47" width="16.85" height="4.05" rx="1.5" fill="none" stroke="#b8c6e6" stroke-width="1"/><path d="M106.47 641.9V643.9M106.47 647.1V650.1" stroke="#000" stroke-width="1.8" fill="none"/><path d="M102.57 641.9H110.37M102.57 650.1H110.37" stroke="#000" stroke-width="1.7" fill="none"/><rect x="98.64" y="644.07" width="15.65" height="2.85" rx="0.5" fill="#5a9a70" stroke="#070c18" stroke-width="1.35"/><path d="M99.32 645.5H113.62" stroke="#867a36" stroke-width="1.1"/><path d="M135.53 737.1H140.33M137.93 734.7V739.5" stroke="#ec2232" stroke-width="1.7" fill="none"/><rect x="129.51" y="621.37" width="16.85" height="7.25" rx="1.5" fill="none" stroke="#b8c6e6" stroke-width="1"/><path d="M137.93 617.2V621.8M137.93 628.2V634.4" stroke="#000" stroke-width="1.8" fill="none"/><path d="M134.03 617.2H141.83M134.03 634.4H141.83" stroke="#000" stroke-width="1.7" fill="none"/><rect x="130.11" y="621.97" width="15.65" height="6.05" rx="0.5" fill="#5a9a70" stroke="#070c18" stroke-width="1.35"/><path d="M130.78 625.2H145.08" stroke="#867a36" stroke-width="1.1"/><path d="M167 737.1H171.8M169.4 734.7V739.5" stroke="#ec2232" stroke-width="1.7" fill="none"/><rect x="160.98" y="645.47" width="16.85" height="3.85" rx="1.5" fill="none" stroke="#b8c6e6" stroke-width="1"/><path d="M169.4 643.7V645.9M169.4 648.9V652.1" stroke="#000" stroke-width="1.8" fill="none"/><path d="M165.5 643.7H173.3M165.5 652.1H173.3" stroke="#000" stroke-width="1.7" fill="none"/><rect x="161.58" y="646.07" width="15.65" height="2.65" rx="0.5" fill="#5a9a70" stroke="#070c18" stroke-width="1.35"/><path d="M162.25 647.4H176.55" stroke="#867a36" stroke-width="1.1"/><path d="M198.47 737.1H203.27M200.87 734.7V739.5" stroke="#ec2232" stroke-width="1.7" fill="none"/><rect x="192.44" y="656.47" width="16.85" height="3.05" rx="1.5" fill="none" stroke="#b8c6e6" stroke-width="1"/><path d="M200.87 654.9V656.9M200.87 659.1V662" stroke="#000" stroke-width="1.8" fill="none"/><path d="M196.97 654.9H204.77M196.97 662H204.77" stroke="#000" stroke-width="1.7" fill="none"/><rect x="193.04" y="657.07" width="15.65" height="1.85" rx="0.5" fill="#5a9a70" stroke="#070c18" stroke-width="1.35"/><path d="M193.72 658H208.02" stroke="#867a36" stroke-width="1.1"/><path d="M229.93 737.1H234.73M232.33 734.7V739.5" stroke="#ec2232" stroke-width="1.7" fill="none"/><rect x="223.91" y="680.97" width="16.85" height="2.75" rx="1.5" fill="none" stroke="#b8c6e6" stroke-width="1"/><path d="M232.33 679.4V681.4M232.33 683.3V685.3" stroke="#000" stroke-width="1.8" fill="none"/><path d="M228.43 679.4H236.23M228.43 685.3H236.23" stroke="#000" stroke-width="1.7" fill="none"/><rect x="224.51" y="681.57" width="15.65" height="1.55" rx="0.5" fill="#5a9a70" stroke="#070c18" stroke-width="1.35"/><path d="M255.3 737.1H272.3" stroke="#7a1526" stroke-width="2.0" fill="none"/><path d="M286.77 737.1H303.77" stroke="#7a1526" stroke-width="2.0" fill="none"/><path d="M27.8 612H311V744.9H27.8ZM43.53 744.9v-2.8M43.53 612v2.8M75 744.9v-2.8M75 612v2.8M106.47 744.9v-2.8M106.47 612v2.8M137.93 744.9v-2.8M137.93 612v2.8M169.4 744.9v-2.8M169.4 612v2.8M200.87 744.9v-2.8M200.87 612v2.8M232.33 744.9v-2.8M232.33 612v2.8M263.8 744.9v-2.8M263.8 612v2.8M295.27 744.9v-2.8M295.27 612v2.8M27.8 737.08h2.8M311 737.08h-2.8M27.8 721.45h2.8M311 721.45h-2.8M27.8 705.81h2.8M311 705.81h-2.8M27.8 690.18h2.8M311 690.18h-2.8M27.8 674.54h2.8M311 674.54h-2.8M27.8 658.91h2.8M311 658.91h-2.8M27.8 643.27h2.8M311 643.27h-2.8M27.8 627.64h2.8M311 627.64h-2.8M27.8 612h2.8M311 612h-2.8" stroke="#262626" stroke-width="1.7" fill="none" stroke-linecap="square"/><text transform="translate(24.6 740.03) scale(1 1.08)" text-anchor="end" font-size="7.1" fill="#3a3a3a">0</text><text transform="translate(24.6 724.4) scale(1 1.08)" text-anchor="end" font-size="7.1" fill="#3a3a3a">1</text><text transform="translate(24.6 708.76) scale(1 1.08)" text-anchor="end" font-size="7.1" fill="#3a3a3a">2</text><text transform="translate(24.6 693.13) scale(1 1.08)" text-anchor="end" font-size="7.1" fill="#3a3a3a">3</text><text transform="translate(24.6 677.49) scale(1 1.08)" text-anchor="end" font-size="7.1" fill="#3a3a3a">4</text><text transform="translate(24.6 661.86) scale(1 1.08)" text-anchor="end" font-size="7.1" fill="#3a3a3a">5</text><text transform="translate(24.6 646.22) scale(1 1.08)" text-anchor="end" font-size="7.1" fill="#3a3a3a">6</text><text transform="translate(24.6 630.59) scale(1 1.08)" text-anchor="end" font-size="7.1" fill="#3a3a3a">7</text><text transform="translate(24.6 614.95) scale(1 1.08)" text-anchor="end" font-size="7.1" fill="#3a3a3a">8</text><text transform="translate(43.53 754.9) scale(1 1.17)" text-anchor="middle" font-size="7.1" fill="#3a3a3a">0.5</text><text transform="translate(75 754.9) scale(1 1.17)" text-anchor="middle" font-size="7.1" fill="#3a3a3a">1.5</text><text transform="translate(106.47 754.9) scale(1 1.17)" text-anchor="middle" font-size="7.1" fill="#3a3a3a">7.6</text><text transform="translate(137.93 754.9) scale(1 1.17)" text-anchor="middle" font-size="7.1" fill="#3a3a3a">9.8</text><text transform="translate(169.4 754.9) scale(1 1.17)" text-anchor="middle" font-size="7.1" fill="#3a3a3a">12.7</text><text transform="translate(200.87 754.9) scale(1 1.17)" text-anchor="middle" font-size="7.1" fill="#3a3a3a">14.6</text><text transform="translate(232.33 754.9) scale(1 1.17)" text-anchor="middle" font-size="7.1" fill="#3a3a3a">17</text><text transform="translate(263.8 754.9) scale(1 1.17)" text-anchor="middle" font-size="7.1" fill="#3a3a3a">38.5</text><text transform="translate(295.27 754.9) scale(1 1.17)" text-anchor="middle" font-size="7.1" fill="#3a3a3a">400</text><text x="169.4" y="765.1" text-anchor="middle" font-size="7.8" fill="#3a3a3a">Stiffness [kPa]</text><text class="rot" transform="translate(16.7 678.45) rotate(-90) scale(1 1.03)" text-anchor="middle" font-size="7.8" fill="#3a3a3a">Patterning rate [24h/h]</text><text transform="translate(-0.72 608.1) scale(1.051 1)" font-size="22.0" fill="#231f20">g</text></g><g><text x="541.55" y="607.1" text-anchor="middle" font-weight="bold" font-size="7.75" fill="#111">YAP/TAZ-DLL4 &amp; YAP/TAZ-Lfng</text><path d="M414.79 723H419.59M417.19 720.6V725.4" stroke="#ec2232" stroke-width="1.7" fill="none"/><path d="M408.69 724.8H425.69" stroke="#2a0a12" stroke-width="2.0" fill="none"/><path d="M446.18 722.6H450.98M448.58 720.2V725" stroke="#ec2232" stroke-width="1.7" fill="none"/><path d="M440.08 724.7H457.08" stroke="#2a0a12" stroke-width="2.0" fill="none"/><path d="M477.57 715.4H482.37M479.97 713V717.8" stroke="#ec2232" stroke-width="1.7" fill="none"/><path d="M477.57 719H482.37M479.97 716.6V721.4" stroke="#ec2232" stroke-width="1.7" fill="none"/><path d="M471.47 721.8H488.47" stroke="#2a0a12" stroke-width="2.0" fill="none"/><path d="M508.96 715.3H513.76M511.36 712.9V717.7" stroke="#ec2232" stroke-width="1.7" fill="none"/><path d="M508.96 687.8H513.76M511.36 685.4V690.2" stroke="#ec2232" stroke-width="1.7" fill="none"/><path d="M507.46 718.6H515.26M507.46 720.9H515.26" stroke="#05070f" stroke-width="1.7" fill="none"/><path d="M502.86 719.85H519.86" stroke="#05070f" stroke-width="2.1" fill="none"/><path d="M540.35 676.8H545.15M542.75 674.4V679.2" stroke="#ec2232" stroke-width="1.7" fill="none"/><path d="M540.35 684.8H545.15M542.75 682.4V687.2" stroke="#ec2232" stroke-width="1.7" fill="none"/><rect x="534.32" y="709.27" width="16.85" height="2.85" rx="1.5" fill="none" stroke="#b8c6e6" stroke-width="1"/><path d="M542.75 708.9V709.7M542.75 711.7V712.5" stroke="#000" stroke-width="1.8" fill="none"/><path d="M538.85 708.9H546.65M538.85 712.5H546.65" stroke="#000" stroke-width="1.7" fill="none"/><rect x="534.92" y="709.88" width="15.65" height="1.65" rx="0.5" fill="#142036" stroke="#070c18" stroke-width="1.35"/><path d="M571.74 674.3H576.54M574.14 671.9V676.7" stroke="#ec2232" stroke-width="1.7" fill="none"/><rect x="565.71" y="698.77" width="16.85" height="3.25" rx="1.5" fill="none" stroke="#b8c6e6" stroke-width="1"/><path d="M574.14 698.6V699.2M574.14 701.6V702.2" stroke="#000" stroke-width="1.8" fill="none"/><path d="M570.24 698.6H578.04M570.24 702.2H578.04" stroke="#000" stroke-width="1.7" fill="none"/><rect x="566.31" y="699.38" width="15.65" height="2.05" rx="0.5" fill="#142036" stroke="#070c18" stroke-width="1.35"/><path d="M603.13 679.4H607.93M605.53 677V681.8" stroke="#ec2232" stroke-width="1.7" fill="none"/><path d="M597.03 682.2H614.03" stroke="#1b0b16" stroke-width="2.0" fill="none"/><path d="M628.42 623.3H645.42" stroke="#5a0e1c" stroke-width="2.0" fill="none"/><path d="M659.81 615.4H676.81" stroke="#5a0e1c" stroke-width="2.0" fill="none"/><path d="M401.5 611.2H684V744H401.5ZM417.19 744v-2.8M417.19 611.2v2.8M448.58 744v-2.8M448.58 611.2v2.8M479.97 744v-2.8M479.97 611.2v2.8M511.36 744v-2.8M511.36 611.2v2.8M542.75 744v-2.8M542.75 611.2v2.8M574.14 744v-2.8M574.14 611.2v2.8M605.53 744v-2.8M605.53 611.2v2.8M636.92 744v-2.8M636.92 611.2v2.8M668.31 744v-2.8M668.31 611.2v2.8M401.5 744h2.8M684 744h-2.8M401.5 729.24h2.8M684 729.24h-2.8M401.5 714.49h2.8M684 714.49h-2.8M401.5 699.73h2.8M684 699.73h-2.8M401.5 684.98h2.8M684 684.98h-2.8M401.5 670.22h2.8M684 670.22h-2.8M401.5 655.47h2.8M684 655.47h-2.8M401.5 640.71h2.8M684 640.71h-2.8M401.5 625.96h2.8M684 625.96h-2.8M401.5 611.2h2.8M684 611.2h-2.8" stroke="#262626" stroke-width="1.7" fill="none" stroke-linecap="square"/><text transform="translate(398.3 746.95) scale(1 1.08)" text-anchor="end" font-size="7.1" fill="#3a3a3a">0</text><text transform="translate(398.3 732.19) scale(1 1.08)" text-anchor="end" font-size="7.1" fill="#3a3a3a">10</text><text transform="translate(398.3 717.44) scale(1 1.08)" text-anchor="end" font-size="7.1" fill="#3a3a3a">20</text><text transform="translate(398.3 702.68) scale(1 1.08)" text-anchor="end" font-size="7.1" fill="#3a3a3a">30</text><text transform="translate(398.3 687.93) scale(1 1.08)" text-anchor="end" font-size="7.1" fill="#3a3a3a">40</text><text transform="translate(398.3 673.17) scale(1 1.08)" text-anchor="end" font-size="7.1" fill="#3a3a3a">50</text><text transform="translate(398.3 658.42) scale(1 1.08)" text-anchor="end" font-size="7.1" fill="#3a3a3a">60</text><text transform="translate(398.3 643.66) scale(1 1.08)" text-anchor="end" font-size="7.1" fill="#3a3a3a">70</text><text transform="translate(398.3 628.91) scale(1 1.08)" text-anchor="end" font-size="7.1" fill="#3a3a3a">80</text><text transform="translate(398.3 614.15) scale(1 1.08)" text-anchor="end" font-size="7.1" fill="#3a3a3a">90</text><text transform="translate(417.19 754.5) scale(1 1.17)" text-anchor="middle" font-size="7.1" fill="#3a3a3a">0.5</text><text transform="translate(448.58 754.5) scale(1 1.17)" text-anchor="middle" font-size="7.1" fill="#3a3a3a">1.5</text><text transform="translate(479.97 754.5) scale(1 1.17)" text-anchor="middle" font-size="7.1" fill="#3a3a3a">7.6</text><text transform="translate(511.36 754.5) scale(1 1.17)" text-anchor="middle" font-size="7.1" fill="#3a3a3a">9.8</text><text transform="translate(542.75 754.5) scale(1 1.17)" text-anchor="middle" font-size="7.1" fill="#3a3a3a">12.7</text><text transform="translate(574.14 754.5) scale(1 1.17)" text-anchor="middle" font-size="7.1" fill="#3a3a3a">14.6</text><text transform="translate(605.53 754.5) scale(1 1.17)" text-anchor="middle" font-size="7.1" fill="#3a3a3a">17</text><text transform="translate(636.92 754.5) scale(1 1.17)" text-anchor="middle" font-size="7.1" fill="#3a3a3a">38.5</text><text transform="translate(668.31 754.5) scale(1 1.17)" text-anchor="middle" font-size="7.1" fill="#3a3a3a">400</text><text x="542.75" y="765" text-anchor="middle" font-size="7.8" fill="#3a3a3a">Stiffness [kPa]</text><text class="rot" transform="translate(386.5 677.6) rotate(-90) scale(1 1.15)" text-anchor="middle" font-size="7.8" fill="#3a3a3a">Nr of filopodia before patterning</text><text transform="translate(369.35 609.6) scale(0.975 1)" font-size="22.7" fill="#231f20">h</text></g></svg>
</body></html>
